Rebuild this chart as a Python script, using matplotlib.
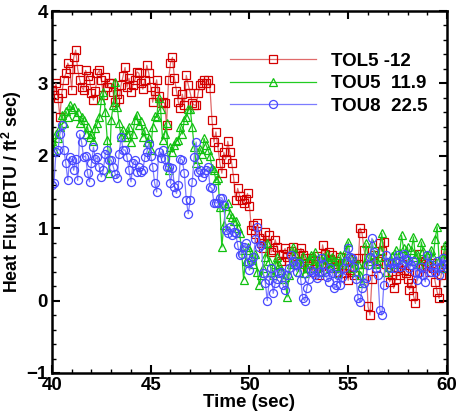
import matplotlib
matplotlib.use("Agg")
import matplotlib.pyplot as plt
import numpy as np
from matplotlib.ticker import MultipleLocator

plt.rcParams["font.family"] = ["Liberation Sans", "DejaVu Sans"]
plt.rcParams["font.weight"] = "bold"
plt.rcParams["mathtext.fontset"] = "custom"
plt.rcParams["mathtext.bf"] = "Liberation Sans:bold"
plt.rcParams["mathtext.rm"] = "Liberation Sans:bold"

# heat flux, one row per second (40.0 .. 59.9), then 60.0
TOL5 = [
    2.91, 2.84, 3.00, 2.80, 2.54, 2.87, 3.05, 3.14, 3.28, 3.20,
    2.91, 3.36, 3.46, 3.20, 3.05, 2.95, 2.91, 3.18, 3.10, 3.05,
    2.87, 2.77, 2.90, 3.14, 3.18, 3.05, 2.84, 3.09, 2.95, 3.00,
    3.00, 2.88, 2.74, 2.86, 2.79, 2.98, 3.10, 3.22, 2.95, 3.07,
    2.88, 2.98, 3.05, 3.16, 3.14, 3.00, 2.92, 3.05, 3.25, 3.14,
    2.95, 2.74, 2.90, 3.05, 2.82, 2.73, 2.74, 2.73, 2.43, 3.05,
    3.28, 3.36, 3.07, 2.90, 2.74, 2.66, 2.85, 2.70, 3.11, 2.98,
    2.87, 2.73, 2.70, 2.70, 2.87, 2.98, 3.00, 3.05, 3.00, 3.05,
    2.93, 2.50, 2.19, 2.33, 2.12, 1.90, 1.76, 2.05, 1.95, 2.20,
    2.05, 1.90, 1.69, 1.39, 1.55, 1.45, 1.39, 1.35, 1.40, 1.48,
    1.30, 0.97, 1.05, 0.92, 1.07, 0.87, 0.80, 0.72, 0.95, 0.78,
    0.90, 0.67, 0.70, 0.84, 0.74, 0.63, 0.55, 0.65, 0.72, 0.60,
    0.55, 0.68, 0.74, 0.62, 0.50, 0.66, 0.72, 0.63, 0.59, 0.45,
    0.50, 0.59, 0.40, 0.55, 0.62, 0.35, 0.48, 0.77, 0.65, 0.52,
    0.67, 0.58, 0.63, 0.45, 0.55, 0.40, 0.60, 0.50, 0.38, 0.45,
    0.28, 0.42, 0.55, 0.35, 0.59, 0.50, 1.00, 0.93, 0.70, 0.59,
    -0.08, -0.20, 0.30, 0.63, 0.45, 0.55, 0.79, 0.68, 0.81, 0.50,
    0.40, 0.26, 0.35, 0.17, 0.30, 0.45, 0.35, 0.50, 0.42, 0.38,
    0.30, 0.15, 0.25, 0.07, -0.04, 0.40, 0.65, 0.50, 0.45, 0.55,
    0.48, 0.40, 0.52, 0.45, 0.26, 0.12, 0.03, 0.35, 0.50, 0.70,
    0.55,
]
TOU5 = [
    2.20, 2.08, 2.30, 2.25, 2.40, 2.57, 2.45, 2.62, 2.54, 2.70,
    2.64, 2.68, 2.55, 2.60, 2.45, 2.53, 2.50, 2.30, 2.40, 2.26,
    2.30, 2.20, 2.38, 2.45, 2.53, 2.77, 2.88, 2.60, 2.22, 1.76,
    2.50, 2.70, 3.02, 2.68, 2.45, 2.26, 2.35, 2.26, 2.30, 2.40,
    2.19, 2.30, 2.50, 2.57, 2.42, 2.48, 2.26, 2.35, 2.19, 2.25,
    2.08, 2.40, 2.55, 2.53, 2.80, 2.64, 2.22, 2.30, 2.45, 1.80,
    2.12, 2.05, 2.15, 2.20, 2.22, 2.40, 2.30, 2.50, 2.54, 2.64,
    2.64, 2.40, 2.12, 1.90, 1.96, 2.10, 2.03, 2.24, 2.15, 2.08,
    2.00, 1.83, 1.80, 1.66, 1.70, 1.29, 0.74, 1.05, 1.30, 1.35,
    1.20, 1.15, 1.10, 1.10, 1.00, 0.93, 0.70, 0.29, 0.55, 0.74,
    0.70, 0.60, 0.50, 0.65, 0.40, 0.22, 0.35, 0.45, 0.60, 0.80,
    0.55, 0.40, 0.35, 0.50, 0.60, 0.49, 0.42, 0.30, 0.33, 0.05,
    0.35, 0.50, 0.74, 0.65, 0.55, 0.40, 0.50, 0.62, 0.38, 0.45,
    0.56, 0.63, 0.50, 0.67, 0.45, 0.55, 0.40, 0.60, 0.50, 0.65,
    0.53, 0.45, 0.60, 0.56, 0.48, 0.38, 0.63, 0.50, 0.53, 0.70,
    0.81, 0.60, 0.45, 0.56, 0.40, 0.50, 0.35, 0.24, 0.50, 0.79,
    0.60, 0.55, 0.79, 0.65, 0.50, 0.52, 0.70, 0.93, 0.60, 0.40,
    0.47, 0.55, 0.62, 0.50, 0.70, 0.58, 0.66, 0.90, 0.72, 0.60,
    0.74, 0.55, 0.70, 0.88, 0.60, 0.65, 0.50, 0.81, 0.68, 0.58,
    0.63, 0.55, 0.70, 0.60, 0.85, 1.02, 0.56, 0.45, 0.60, 0.77,
    0.62,
]
TOU8 = [
    1.60, 1.62, 2.05, 2.08, 2.30, 2.42, 2.08, 1.90, 1.66, 1.98,
    1.94, 1.80, 1.96, 1.66, 2.30, 2.19, 1.98, 2.00, 1.76, 1.64,
    1.90, 2.12, 1.95, 1.98, 1.84, 1.71, 1.80, 2.03, 2.08, 1.94,
    1.94, 1.85, 1.75, 1.69, 2.03, 2.26, 2.08, 2.08, 1.98, 1.80,
    1.64, 1.90, 1.94, 1.78, 1.85, 1.78, 1.80, 1.98, 2.05, 2.17,
    2.00, 1.85, 1.62, 1.50, 2.05, 1.97, 2.08, 1.96, 1.85, 1.85,
    1.62, 1.83, 1.57, 1.48, 1.60, 1.96, 1.94, 1.76, 1.39, 1.20,
    1.39, 1.64, 1.98, 2.19, 1.78, 1.80, 1.71, 1.76, 1.80, 1.85,
    1.57, 1.55, 1.35, 1.35, 1.35, 1.42, 1.42, 1.32, 0.97, 0.93,
    1.02, 0.90, 0.95, 0.93, 0.77, 0.63, 0.65, 0.74, 0.79, 0.52,
    0.42, 0.55, 0.60, 0.85, 1.02, 0.74, 0.77, 0.38, 0.25, 0.00,
    0.28, 0.45, 0.10, 0.24, 0.30, 0.38, 0.40, 0.21, 0.15, 0.35,
    0.45, 0.63, 0.55, 0.49, 0.40, 0.52, 0.28, 0.03, 0.00, 0.17,
    0.30, 0.42, 0.40, 0.35, 0.31, 0.40, 0.59, 0.50, 0.40, 0.33,
    0.26, 0.45, 0.38, 0.17, 0.21, 0.35, 0.21, 0.33, 0.45, 0.55,
    0.72, 0.60, 0.59, 0.47, 0.30, 0.03, -0.02, 0.17, 0.25, 0.31,
    0.49, 0.60, 0.86, 0.67, 0.45, 0.35, -0.13, -0.20, 0.21, 0.63,
    0.53, 0.45, 0.52, 0.45, 0.55, 0.63, 0.47, 0.50, 0.65, 0.58,
    0.56, 0.45, 0.49, 0.55, 0.40, 0.28, 0.38, 0.47, 0.35, 0.26,
    0.63, 0.50, 0.40, 0.45, 0.40, 0.55, 0.35, 0.48, 0.59, 0.50,
    0.45,
]
T_START, T_END = 40.0, 60.0
LABELS = ["TOL5 -12", "TOU5  11.9", "TOU8  22.5"]

time = np.linspace(T_START, T_END, len(TOL5))

fig = plt.figure(figsize=(4.58, 4.19), dpi=100)
ax = fig.add_axes([0.1135, 0.1098, 0.8625, 0.8639])

styles = [
    (TOL5, "s", "#e06a6a", "#d40000"),
    (TOU5, "^", "#22cc22", "#10c010"),
    (TOU8, "o", "#7c7cff", "#4848ff"),
]
for (vals, mk, lc, mc), lab in zip(styles, LABELS):
    ax.plot(time, vals, color=lc, lw=0.9, marker=mk, ms=5.8, mfc="none",
            mec=mc, mew=0.9, label=lab)

ax.set_xlim(40, 60)
ax.set_ylim(-1, 4)
ax.xaxis.set_major_locator(MultipleLocator(5))
ax.xaxis.set_minor_locator(MultipleLocator(1))
ax.yaxis.set_major_locator(MultipleLocator(1))
ax.yaxis.set_minor_locator(MultipleLocator(0.2))
ax.tick_params(which="both", direction="in", top=True, right=True, width=1.5,
               labelsize=13.5, pad=3)
ax.tick_params(which="major", length=6)
ax.tick_params(which="minor", length=3, width=1)
for s in ax.spines.values():
    s.set_linewidth(1.8)
for t in ax.get_xticklabels() + ax.get_yticklabels():
    t.set_fontweight("bold")

ax.set_xlabel("Time (sec)", fontsize=13.5, fontweight="bold", labelpad=0)
ax.set_ylabel(r"Heat Flux (BTU / ft$^\mathbf{2}$ sec)", fontsize=12.8,
              fontweight="bold", labelpad=2)

leg = ax.legend(loc="upper left", bbox_to_anchor=(0.45, 0.885), frameon=False,
                numpoints=1, handlelength=4.6, handletextpad=0.8,
                labelspacing=0.28, borderpad=0, borderaxespad=0,
                prop={"size": 13.5, "weight": "bold"})

fig.savefig("out.png", dpi=100)
